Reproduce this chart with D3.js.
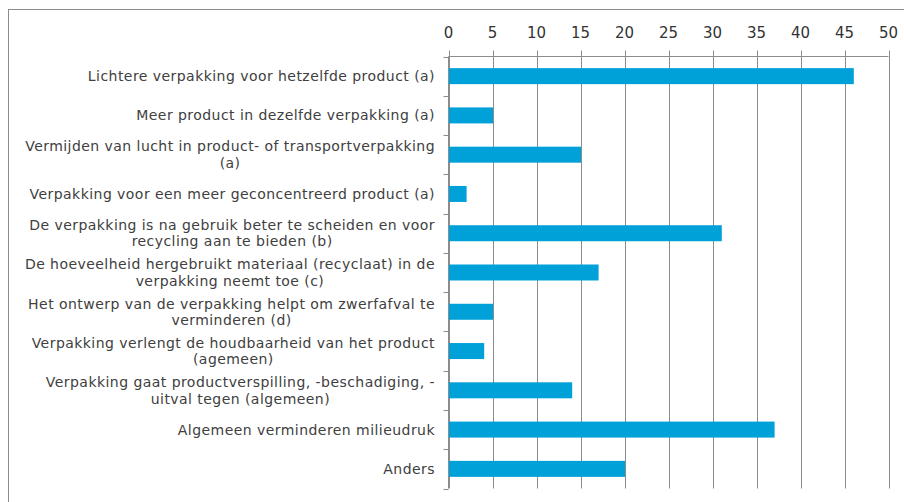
<!DOCTYPE html>
<html>
<head>
<meta charset="utf-8">
<script src="https://cdn.jsdelivr.net/npm/d3@7"></script>
<style>
  body { margin: 0; background: #fff; }
  svg text { font-family: "DejaVu Sans", sans-serif; fill: #404040; }
</style>
</head>
<body>
<svg id="chart" width="904" height="502"></svg>
<script>
// categories as they are wrapped in the picture
var labels = [
  ["Lichtere verpakking voor hetzelfde product (a)"],
  ["Meer product in dezelfde verpakking (a)"],
  ["Vermijden van lucht in product- of transportverpakking", "(a)"],
  ["Verpakking voor een meer geconcentreerd product (a)"],
  ["De verpakking is na gebruik beter te scheiden en voor", "recycling aan te bieden (b)"],
  ["De hoeveelheid hergebruikt materiaal (recyclaat) in de", "verpakking neemt toe (c)"],
  ["Het ontwerp van de verpakking helpt om zwerfafval te", "verminderen (d)"],
  ["Verpakking verlengt de houdbaarheid van het product", "(agemeen)"],
  ["Verpakking gaat productverspilling, -beschadiging, -", "uitval tegen (algemeen)"],
  ["Algemeen verminderen milieudruk"],
  ["Anders"]
];
var values = [46, 5, 15, 2, 31, 17, 5, 4, 14, 37, 20];
var ticks = [0, 5, 10, 15, 20, 25, 30, 35, 40, 45, 50];

var svg = d3.select("#chart");
var plotL = 448.5, plotR = 888.5, plotT = 56.5, plotB = 488.5;

// frame (cut off at right and bottom like the screenshot)
svg.append("rect")
  .attr("x", 8.5).attr("y", 9.5)
  .attr("width", 920).attr("height", 520)
  .attr("fill", "none").attr("stroke", "#8c8c8c");

var x = d3.scaleLinear().domain([0, 50]).range([plotL, plotR]);
var y = d3.scaleBand().domain(d3.range(values.length)).range([plotT, plotB]).padding(0);

// gridlines
svg.append("g").selectAll("line").data(ticks).join("line")
  .attr("x1", d => Math.round(x(d)) + 0.5).attr("x2", d => Math.round(x(d)) + 0.5)
  .attr("y1", plotT - 6).attr("y2", plotB)
  .attr("stroke", "#8c8c8c").attr("stroke-width", 1);

// top axis line
svg.append("line")
  .attr("x1", plotL).attr("x2", plotR).attr("y1", plotT).attr("y2", plotT)
  .attr("stroke", "#8c8c8c");

// tick labels
svg.append("g").selectAll("text").data(ticks).join("text")
  .attr("x", d => x(d)).attr("y", 38)
  .attr("text-anchor", "middle")
  .style("font-size", "15px")
  .style("fill", "#333")
  .text(d => d);

// left axis with ticks at category boundaries
svg.append("line")
  .attr("x1", plotL).attr("x2", plotL).attr("y1", plotT).attr("y2", plotB)
  .attr("stroke", "#8c8c8c");
var bounds = d3.range(values.length + 1).map(i => i === values.length ? plotB : y(i));
svg.append("g").selectAll("line").data(bounds).join("line")
  .attr("x1", plotL - 5).attr("x2", plotL)
  .attr("y1", d => Math.round(d) + 0.5).attr("y2", d => Math.round(d) + 0.5)
  .attr("stroke", "#8c8c8c");

// bars
var barH = 16;
svg.append("g").selectAll("rect").data(values).join("rect")
  .attr("x", plotL + 0.5)
  .attr("y", (d, i) => y(i) + y.bandwidth() / 2 - barH / 2)
  .attr("width", d => x(d) - plotL)
  .attr("height", barH)
  .attr("fill", "#00a1d8");

// category labels: block right-aligned at 435, lines centered within block
var lab = svg.append("g");
labels.forEach(function(lines, i) {
  var cy = y(i) + y.bandwidth() / 2;
  var t = lab.append("text").style("font-size", "14px").style("letter-spacing", "0.45px");
  lines.forEach(function(s, j) {
    t.append("tspan")
      .attr("x", 0)
      .attr("y", cy + 5 + (j - (lines.length - 1) / 2) * 16.5)
      .text(s);
  });
  // measure widest line and center others
  var w = 0;
  t.selectAll("tspan").each(function() { w = Math.max(w, this.getComputedTextLength()); });
  t.selectAll("tspan")
    .attr("text-anchor", "middle")
    .attr("x", 435 - w / 2);
});
</script>
</body>
</html>
